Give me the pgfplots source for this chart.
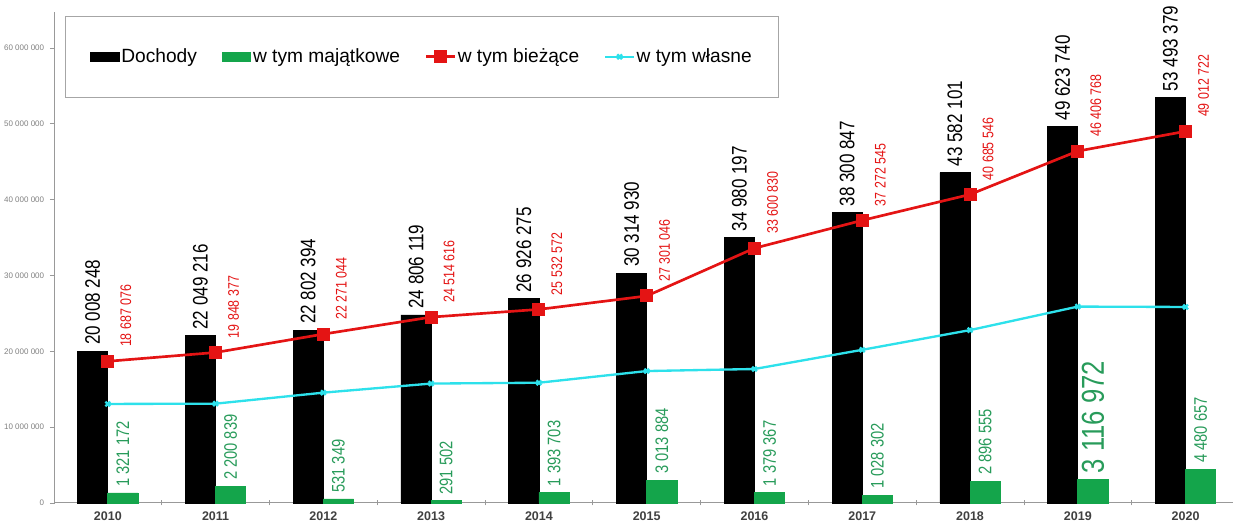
\documentclass[border=0pt]{standalone}
\usepackage{pgfplots}
\pgfplotsset{compat=1.18}
\usepackage{fontspec}
\setmainfont{Liberation Sans}
\newfontfamily\narrowfont[FakeStretch=0.81]{Liberation Sans}
\definecolor{dgreen}{RGB}{20,165,75}
\definecolor{lgreen}{RGB}{40,155,90}
\definecolor{dred}{RGB}{228,20,20}
\definecolor{lcyan}{RGB}{45,225,235}
\begin{document}
\begin{tikzpicture}
\useasboundingbox (-33pt,-10.8pt) rectangle (708pt,301.8pt);
\begin{axis}[
  at={(0,0)}, anchor=south west, scale only axis,
  width=706.8pt, height=294.6pt,
  xmin=-0.49, xmax=10.44, ymin=0, ymax=64.75e6,
  clip=false,
  axis x line=bottom, axis y line=left,
  axis line style={-, draw=gray!80, line width=0.6pt},
  ytick={0,10000000,20000000,30000000,40000000,50000000,60000000},
  yticklabels={0,10 000 000,20 000 000,30 000 000,40 000 000,50 000 000,60 000 000},
  y tick label style={font=\fontsize{4.8}{5}\selectfont, text=gray},
  tick align=outside, major tick length=3pt,
  tick style={draw=gray!80, line width=0.5pt},
  xtick={0.5,1.5,...,9.5}, xticklabels={},
  xtick style={yshift=1.5pt},
  extra x ticks={0,1,2,3,4,5,6,7,8,9,10},
  extra x tick labels={2010,2011,2012,2013,2014,2015,2016,2017,2018,2019,2020},
  extra x tick style={tick style={draw=none}, tick label style={font=\bfseries\fontsize{7.5}{8}\selectfont, text=black!75, yshift=1.2pt}},
  legend columns=4,
  legend style={at={(axis description cs:0.0085,0.992)}, anchor=north west,
    draw=gray!70, line width=0.6pt, inner xsep=14.8pt, inner ysep=17.3pt,
    font=\fontsize{11.5}{13}\selectfont, nodes={inner xsep=1pt},
    /tikz/every even column/.append style={column sep=14pt}},
  legend cell align=left,
]
\addplot[ybar, bar width=0.28, bar shift=-0.14, fill=black, draw=black, area legend,
  point meta=explicit symbolic, nodes near coords,
  every node near coord/.append style={font=\narrowfont\fontsize{12.6}{13}\selectfont, text=black, xshift=-9.06pt, yshift=3.6pt, rotate=90, anchor=west, inner sep=0pt}]
coordinates {
(0,20008248) [20 008 248]
(1,22049216) [22 049 216]
(2,22802394) [22 802 394]
(3,24806119) [24 806 119]
(4,26926275) [26 926 275]
(5,30314930) [30 314 930]
(6,34980197) [34 980 197]
(7,38300847) [38 300 847]
(8,43582101) [43 582 101]
(9,49623740) [49 623 740]
(10,53493379) [53 493 379]
};
\addlegendentry{Dochody}
\addplot[ybar, bar width=0.28, bar shift=0.14, fill=dgreen, draw=dgreen, area legend,
  point meta=explicit symbolic, nodes near coords,
  every node near coord/.append style={font=\narrowfont\fontsize{10.9}{12}\selectfont, text=lgreen, xshift=9.06pt, yshift=3.6pt, rotate=90, anchor=west, inner sep=0pt}]
coordinates {
(0,1321172) [1 321 172]
(1,2200839) [2 200 839]
(2,531349) [531 349]
(3,291502) [291 502]
(4,1393703) [1 393 703]
(5,3013884) [3 013 884]
(6,1379367) [1 379 367]
(7,1028302) [1 028 302]
(8,2896555) [2 896 555]
(10,4480657) [4 480 657]
};
\addlegendentry{w tym majątkowe}
\addplot[forget plot, ybar, bar width=0.28, bar shift=0.14, fill=dgreen, draw=dgreen,
  point meta=explicit symbolic, nodes near coords,
  every node near coord/.append style={font=\narrowfont\fontsize{19}{20}\selectfont, text=lgreen, xshift=9.06pt, yshift=3.6pt, rotate=90, anchor=west, inner sep=0pt}]
coordinates {
(9,3116972) [3 116 972]
};
\addplot[color=dred, line width=1.6pt, mark=square*, mark size=3.1pt, mark options={solid},
  point meta=explicit symbolic, nodes near coords,
  every node near coord/.append style={font=\narrowfont\fontsize{9.2}{10}\selectfont, text=dred, xshift=10.8pt, yshift=7.8pt, rotate=90, anchor=west, inner sep=0pt}]
coordinates {
(0,18687076) [18 687 076]
(1,19848377) [19 848 377]
(2,22271044) [22 271 044]
(3,24514616) [24 514 616]
(4,25532572) [25 532 572]
(5,27301046) [27 301 046]
(6,33600830) [33 600 830]
(7,37272545) [37 272 545]
(8,40685546) [40 685 546]
(9,46406768) [46 406 768]
(10,49012722) [49 012 722]
};
\addlegendentry{w tym bieżące}
\addplot[color=lcyan, line width=1.4pt, mark=x, mark size=2pt, mark options={solid}]
coordinates {
(0,13060000) (1,13100000) (2,14550000) (3,15750000) (4,15860000) (5,17400000)
(6,17670000) (7,20200000) (8,22800000) (9,25900000) (10,25850000)
};
\addlegendentry{w tym własne}
\end{axis}
\end{tikzpicture}
\end{document}
